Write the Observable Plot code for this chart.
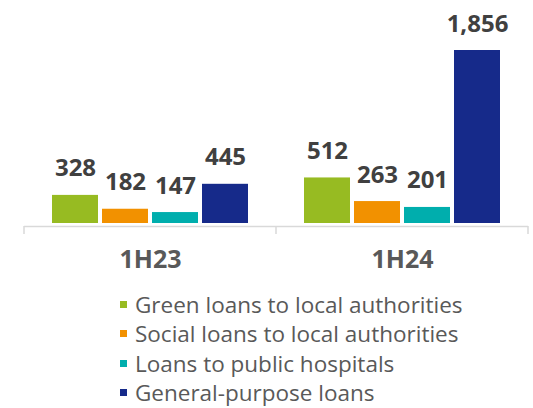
<!DOCTYPE html>
<html>
<head>
<meta charset="utf-8">
<script src="https://cdn.jsdelivr.net/npm/d3@7"></script>
<script src="https://cdn.jsdelivr.net/npm/@observablehq/plot@0.6"></script>
<style>
  html, body { margin: 0; padding: 0; background: #fff; }
  #chart svg { display: block; }
  #legend { padding-left: 120px; margin-top: 5px; font-family: "Open Sans", sans-serif; font-size: 22.5px; color: #595959; }
  .row { display: flex; align-items: center; height: 29.3px; line-height: 29.3px; white-space: nowrap; }
  .sw { width: 7px; height: 7px; margin-right: 8px; flex: none; }
</style>
</head>
<body>
<div id="chart"></div>
<div id="legend"></div>
<script>
const periods = ["1H23", "1H24"];
const series = ["Green loans to local authorities", "Social loans to local authorities", "Loans to public hospitals", "General-purpose loans"];
const colors = ["#97BB22", "#F29100", "#00AEAD", "#162A8A"];
const values1H23 = [328, 182, 147, 445];
const values1H24 = [512, 263, 201, 1856];

const data = [];
series.forEach((s, i) => {
  data.push({period: periods[0], series: s, value: values1H23[i]});
  data.push({period: periods[1], series: s, value: values1H24[i]});
});

const W = 533, H = 285;
const chart = Plot.plot({
  width: W,
  height: H,
  marginLeft: 23,
  marginRight: 5,
  marginTop: 50,
  marginBottom: 59,
  style: {fontFamily: "'Open Sans', sans-serif", background: "#fff"},
  fx: {domain: periods, padding: 0, label: null},
  x: {domain: series, paddingInner: 0.09, paddingOuter: 0.545, axis: null},
  y: {domain: [0, d3.max([...values1H23, ...values1H24])], axis: null},
  color: {domain: series, range: colors},
  marks: [
    Plot.barY(data, {fx: "period", x: "series", y: "value", fill: "series", insetBottom: 3}),
    Plot.text(data, {fx: "period", x: "series", y: "value", text: d => d3.format(",")(d.value),
      lineAnchor: "bottom", dy: -19, fontSize: 24, fontWeight: "bold", fill: "#404040"}),
    Plot.ruleY([0], {stroke: "#d9d9d9", strokeWidth: 1.5}),
    Plot.axisFx({anchor: "bottom", tickSize: 0, tickPadding: 24, fontSize: 25, fontWeight: "bold", fill: "#595959", label: null})
  ]
});
document.getElementById("chart").appendChild(chart);

// tick marks at the edges of each period band, from the fx scale
const fx = chart.scale("fx");
const ys = chart.scale("y");
const y0 = ys.apply(0);
const edges = fx.domain.map(d => fx.apply(d));
edges.push(fx.apply(fx.domain[fx.domain.length - 1]) + fx.bandwidth);
d3.select(chart).append("g")
  .selectAll("line").data(edges).join("line")
  .attr("x1", d => d).attr("x2", d => d)
  .attr("y1", y0).attr("y2", y0 + 8)
  .attr("stroke", "#d9d9d9").attr("stroke-width", 1.5);

const legend = d3.select("#legend");
series.forEach((s, i) => {
  const row = legend.append("div").attr("class", "row");
  row.append("div").attr("class", "sw").style("background", colors[i]);
  row.append("span").text(s);
});
</script>
</body>
</html>
